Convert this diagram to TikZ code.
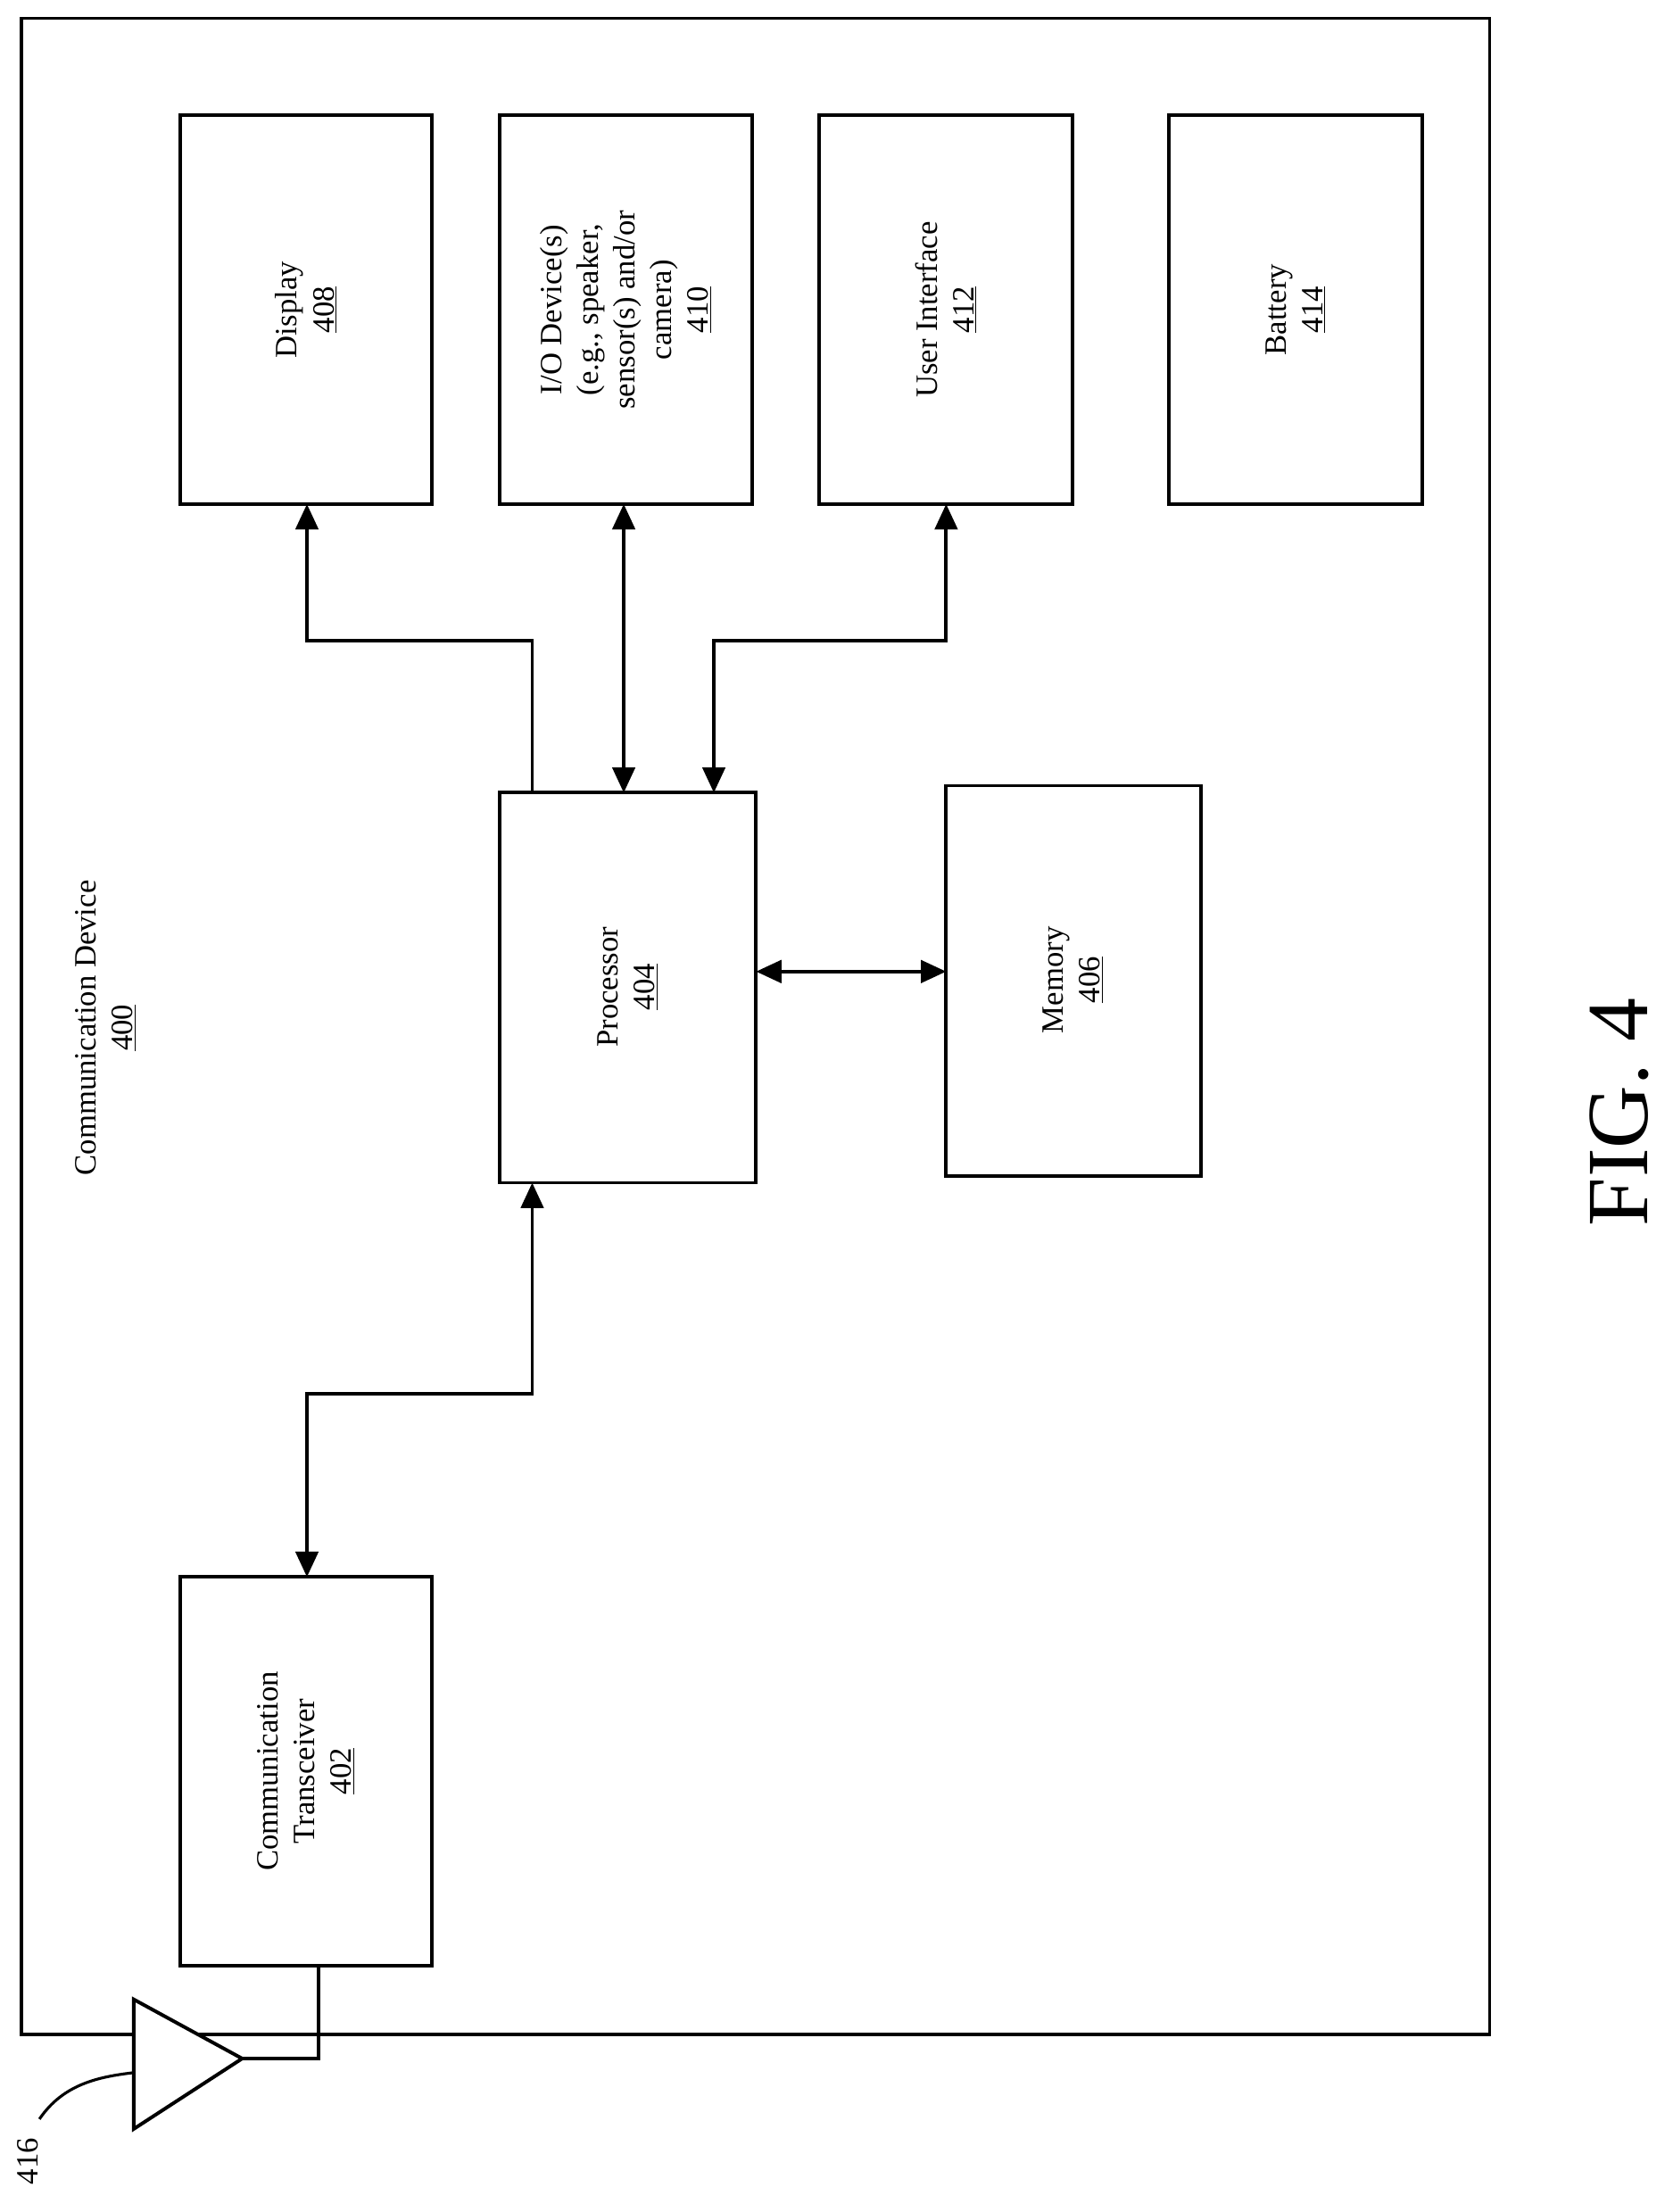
\documentclass[tikz,border=0pt]{standalone}
\usepackage{fontspec}
\setmainfont{Liberation Serif}
\usetikzlibrary{arrows.meta}
\begin{document}
\begin{tikzpicture}[x=1pt,y=-1pt,
  box/.style={draw,line width=2.5pt},
  lbl/.style={rotate=90,align=center,font=\fontsize{22}{26}\selectfont},
  ln/.style={line width=2.5pt},
  arr/.style={ln,-{Triangle[length=18pt,width=16pt]}},
  darr/.style={ln,{Triangle[length=18pt,width=16pt]}-{Triangle[length=18pt,width=16pt]}}]
\useasboundingbox (0,0) rectangle (1188,1571);
\draw[box] (15,13) rectangle (1058,1445);
\draw[box] (128,82) rectangle (307,358); \node[lbl] (d) at (217.5,220) {Display\\\underline{408}};
\draw[box] (355,82) rectangle (534,358); \node[lbl] (io) at (444.5,220) {I/O Device(s)\\(e.g., speaker,\\sensor(s) and/or\\camera)\\\underline{410}};
\draw[box] (582,82) rectangle (762,358); \node[lbl] (ui) at (672,220) {User Interface\\\underline{412}};
\draw[box] (830,82) rectangle (1010,358); \node[lbl] (b) at (920,220) {Battery\\\underline{414}};
\draw[box] (355,563) rectangle (537,840); \node[lbl] (p) at (446,701) {Processor\\\underline{404}};
\draw[box] (672,558) rectangle (853,835); \node[lbl] (m) at (762,696) {Memory\\\underline{406}};
\draw[box] (128,1120) rectangle (307,1396); \node[lbl] (t) at (217.5,1258) {Communication\\Transceiver\\\underline{402}};
\node[lbl] (cd) at (75,730) {Communication Device\\\underline{400}};
\node[rotate=90,font=\fontsize{62}{70}\selectfont] (fig) at (1150,790) {FIG. 4};
\coordinate (pt1) at (378,563); \coordinate (db) at (218,358);
\draw[arr] (pt1) |- (298,455) -| (db);
\draw[darr] (443,563) -- (443,358);
\draw[darr] (507,563) |- (590,455) -| (672,358);
\draw[darr] (537,690) -- (672,690);
\draw[darr] (218,1120) |- (300,990) -| (378,840);
\coordinate (tip) at (172,1462);
\draw[ln] (226,1396) |- (tip);
\draw[ln,fill=white] (95,1420) -- (tip) -- (95,1512) -- cycle;
\node[rotate=90,font=\fontsize{22}{26}\selectfont] (a) at (20,1535) {416};
\draw[line width=2pt] (28,1505) .. controls (45,1480) and (70,1475) .. (95,1472);
\end{tikzpicture}
\end{document}
